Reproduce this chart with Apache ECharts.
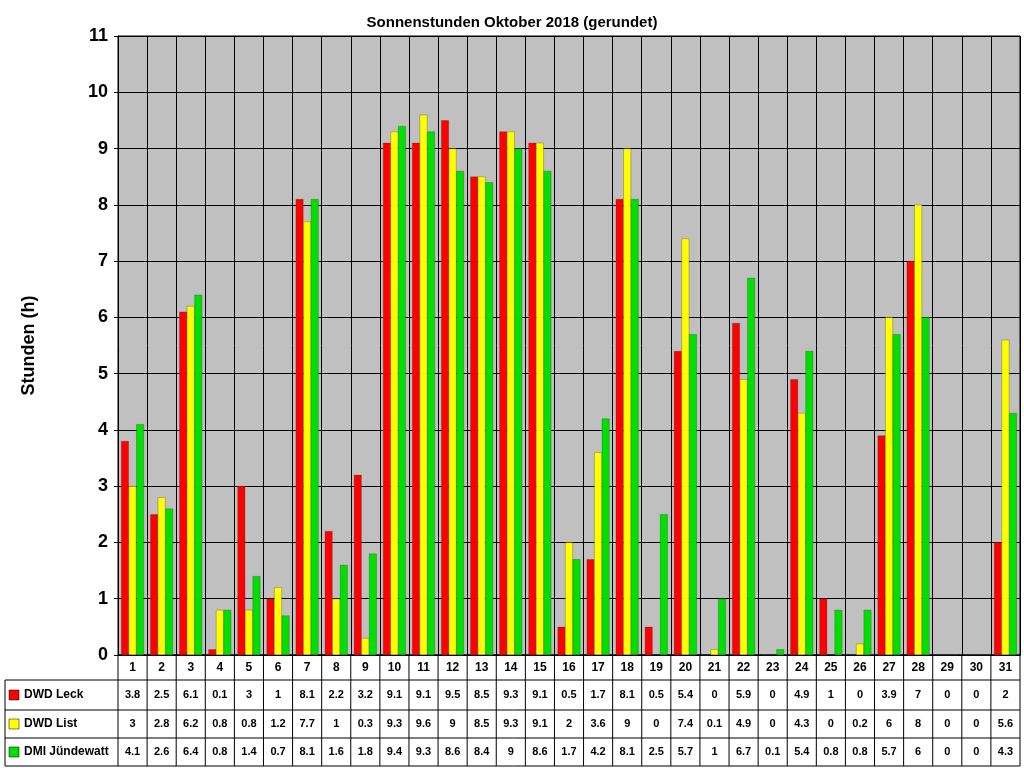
<!DOCTYPE html><html><head><meta charset="utf-8"><script src="https://cdn.jsdelivr.net/npm/echarts@6/dist/echarts.min.js"></script></head><body style="margin:0"><div id="c" style="width:1024px;height:768px"></div><script>
const days=Array.from({length:31},(_,i)=>String(i+1));
const leck=[3.8,2.5,6.1,0.1,3,1,8.1,2.2,3.2,9.1,9.1,9.5,8.5,9.3,9.1,0.5,1.7,8.1,0.5,5.4,0,5.9,0,4.9,1,0,3.9,7,0,0,2];
const list=[3,2.8,6.2,0.8,0.8,1.2,7.7,1,0.3,9.3,9.6,9,8.5,9.3,9.1,2,3.6,9,0,7.4,0.1,4.9,0,4.3,0,0.2,6,8,0,0,5.6];
const dmi=[4.1,2.6,6.4,0.8,1.4,0.7,8.1,1.6,1.8,9.4,9.3,8.6,8.4,9,8.6,1.7,4.2,8.1,2.5,5.7,1,6.7,0.1,5.4,0.8,0.8,5.7,6,0,0,4.3];
const names=['DWD Leck','DWD List','DMI Jündewatt'];
const colors=['#ff0000','#ffff00','#00e000'];
const L=118,R=1020,T=36,B=655,W=R-L,cw=W/31;
const rows=[655,680,710,738,766];
const g=[];
g.push({type:'line',shape:{x1:L,y1:rows[0],x2:R,y2:rows[0]},style:{stroke:'#000',lineWidth:1}});
for(let i=1;i<rows.length;i++)g.push({type:'line',shape:{x1:5,y1:rows[i],x2:R,y2:rows[i]},style:{stroke:'#000',lineWidth:1}});
g.push({type:'line',shape:{x1:5,y1:rows[1],x2:5,y2:rows[4]},style:{stroke:'#000',lineWidth:1}});
for(let i=0;i<=31;i++){const x=L+i*cw;g.push({type:'line',shape:{x1:x,y1:rows[0],x2:x,y2:rows[4]},style:{stroke:'#000',lineWidth:1}});}
names.forEach((n,i)=>{const yc=(rows[i+1]+rows[i+2])/2;
g.push({type:'rect',shape:{x:9,y:yc-5,width:10,height:10},style:{fill:colors[i],stroke:'#000',lineWidth:0.5}});
g.push({type:'text',x:24,y:yc,style:{text:n,font:'bold 12px Arial, Liberation Sans',fill:'#000',verticalAlign:'middle'}});});
const tbl=[leck,list,dmi];
const offs=[28,57,85];
const xAxes=[{type:'category',data:days,position:'bottom',gridIndex:0,axisLine:{lineStyle:{color:'#000'}},axisTick:{show:false},splitLine:{show:true,lineStyle:{color:'#000',width:1}},axisLabel:{color:'#000',fontWeight:'bold',fontSize:12,margin:7,interval:0,fontFamily:'Arial, Liberation Sans'}}];
tbl.forEach((d,i)=>xAxes.push({type:'category',data:d.map(String),position:'bottom',offset:offs[i],axisLine:{show:false},axisTick:{show:false},axisLabel:{color:'#000',fontWeight:'bold',fontSize:11,margin:6,interval:0,fontFamily:'Arial, Liberation Sans'}}));
const chart=echarts.init(document.getElementById('c'));
chart.setOption({animation:false,backgroundColor:'#fff',
title:{text:'Sonnenstunden Oktober 2018 (gerundet)',left:'center',top:10,textStyle:{fontSize:15,fontWeight:'bold',color:'#000',fontFamily:'Arial, Liberation Sans'}},
grid:{left:L,right:1024-R,top:T,bottom:768-B,show:true,backgroundColor:'#c0c0c0',borderColor:'#000',borderWidth:1},
xAxis:xAxes,
yAxis:{type:'value',min:0,max:11,interval:1,axisLine:{show:true,lineStyle:{color:'#000'}},axisTick:{show:true,length:4,lineStyle:{color:'#000'}},splitLine:{lineStyle:{color:'#000',width:1}},axisLabel:{color:'#000',fontWeight:'bold',fontSize:18,margin:10,fontFamily:'Arial, Liberation Sans'},
name:'Stunden (h)',nameLocation:'middle',nameGap:80,nameTextStyle:{color:'#000',fontWeight:'bold',fontSize:18,fontFamily:'Arial, Liberation Sans'}},
series:tbl.map((d,i)=>({type:'bar',name:names[i],data:d,xAxisIndex:0,barGap:'0%',barCategoryGap:'22%',itemStyle:{color:colors[i],borderColor:'#333',borderWidth:0.3}})),
graphic:g});
</script></body></html>
